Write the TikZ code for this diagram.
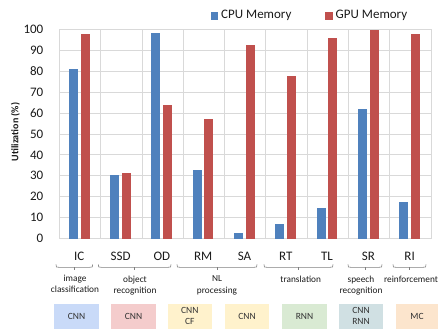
\documentclass[tikz,border=0pt]{standalone}
\usepackage{fontspec}
\setmainfont{Carlito}
\definecolor{cpubar}{HTML}{4F81BD}
\definecolor{gpubar}{HTML}{C0504D}
\definecolor{gridgray}{HTML}{D9D9D9}
\definecolor{bracegray}{HTML}{808080}
\definecolor{txt}{HTML}{1A1A1A}
\definecolor{boxtxt}{HTML}{333333}
\definecolor{fblue}{HTML}{C9DAF8}
\definecolor{fred}{HTML}{F4CCCC}
\definecolor{fyellow}{HTML}{FFF2CC}
\definecolor{fgreen}{HTML}{D9EAD3}
\definecolor{fcyan}{HTML}{D0E0E3}
\definecolor{forange}{HTML}{FCE5CD}
\tikzset{
  gridline/.style={draw=gridgray, line width=0.7pt},
  ticklabel/.style={anchor=east, inner sep=0pt, text=txt, font=\fontsize{13}{13}\selectfont},
  catlabel/.style={inner sep=0pt, text=txt, font=\fontsize{13}{13}\selectfont},
  grouplabel/.style={inner sep=0pt, align=center, text=txt, font=\fontsize{9.3}{11.5}\selectfont},
  bracket/.style={draw=bracegray, line width=0.6pt},
  kindbox/.style={minimum height=25pt, inner sep=0pt, align=center, text=boxtxt,
                  font=\fontsize{9.5}{11}\selectfont},
  legendtext/.style={anchor=west, inner sep=0pt, text=txt, font=\fontsize{13}{13}\selectfont},
}
\begin{document}
\begin{tikzpicture}[x=1pt, y=-1pt]
\useasboundingbox (0,0) rectangle (438,330);

% horizontal grid and value axis labels
\foreach \v in {0,10,...,100} {
  \draw[gridline] (59.3,{238.7-2.097*\v}) -- (430.7,{238.7-2.097*\v});
  \node[ticklabel] (y\v) at (43.5,{238.7-2.097*\v}) {\v};
}
% vertical grid between categories
\foreach \k in {0,...,9} {
  \draw[gridline] ({59.3+41.3*\k},29) -- ({59.3+41.3*\k},238.7);
}

% axis title
\node[rotate=90, inner sep=0pt, text=txt, font=\bfseries\fontsize{10}{10}\selectfont]
  (ytitle) at (15.5,132) {Utilization (\%)};

% bars and category labels
\foreach \i/\lab/\c/\g in {0/IC/80.8/97.6, 1/SSD/30.6/31.2, 2/OD/98/63.9,
    3/RM/32.7/57.1, 4/SA/2.7/92.4, 5/RT/7/77.6, 6/TL/14.5/95.6,
    7/SR/62/99.5, 8/RI/17.5/97.6} {
  \pgfmathsetmacro\cx{59.3+41.3*(\i+0.5)}
  \fill[cpubar] (\cx-11.1,238.7) rectangle (\cx-2.1,{238.7-2.097*\c});
  \fill[gpubar] (\cx+0.6,238.7) rectangle (\cx+9.6,{238.7-2.097*\g});
  \node[catlabel] (c\lab) at (\cx-0.7,256) {\lab};
}

% legend
\fill[cpubar] (210.5,12) rectangle (218,19.5);
\node[legendtext] (lcpu) at (221,15.8) {CPU Memory};
\fill[gpubar] (325,12) rectangle (332.5,19.5);
\node[legendtext] (lgpu) at (335.5,15.8) {GPU Memory};

% brackets grouping the categories
\foreach \a/\b in {56/92.7, 98.3/171, 177/257, 264/333, 348/382, 393/426} {
  \pgfmathsetmacro\m{(\a+\b)/2}
  \draw[bracket] (\a,264.3) .. controls (\a,267.3) .. (\a+3,267.3)
     -- (\b-3,267.3) .. controls (\b,267.3) .. (\b,264.3);
  \draw[bracket] (\m,267.3) -- (\m,270.3);
}

% application groups
\node[grouplabel, anchor=north] (g1) at (75,274.5) {image\\classification};
\node[grouplabel, anchor=north] (g2) at (135,275.5) {object\\recognition};
\node[grouplabel, anchor=north] (g3) at (217,275.5) {NL\\processing};
\node[grouplabel, anchor=north] (g4) at (300.7,275.5) {translation};
\node[grouplabel, anchor=north] (g5) at (361,275.5) {speech\\recognition};
\node[grouplabel, anchor=north] (g6) at (411,275.5) {reinforcement};

% model kinds
\node[kindbox, fill=fblue,   minimum width=45pt]   (k1) at (76.5,316)  {CNN};
\node[kindbox, fill=fred,    minimum width=45pt]   (k2) at (133.5,316) {CNN};
\node[kindbox, fill=fyellow, minimum width=43.5pt] (k3) at (189.75,316) {CNN\\CF};
\node[kindbox, fill=fyellow, minimum width=44pt]   (k4) at (247,316)   {CNN};
\node[kindbox, fill=fgreen,  minimum width=45pt]   (k5) at (304.5,316) {RNN};
\node[kindbox, fill=fcyan,   minimum width=44pt]   (k6) at (361,316)   {CNN\\RNN};
\node[kindbox, fill=forange, minimum width=42pt]   (k7) at (417,316)   {MC};
\end{tikzpicture}
\end{document}
